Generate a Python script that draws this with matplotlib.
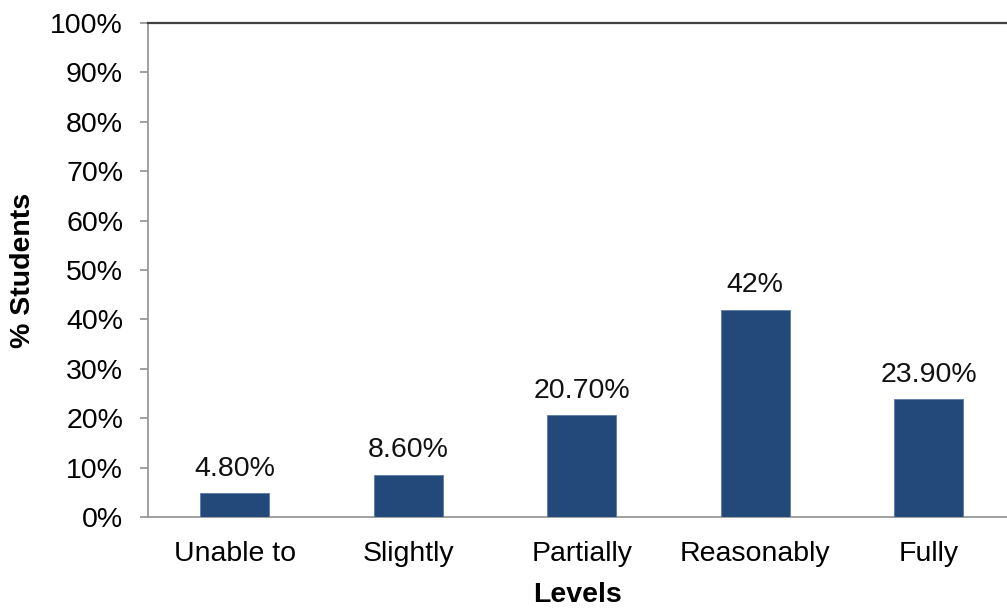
import matplotlib
matplotlib.use("Agg")
import matplotlib.pyplot as plt
from matplotlib.ticker import FuncFormatter

levels = ["Unable to", "Slightly", "Partially", "Reasonably", "Fully"]
pct = [4.8, 8.6, 20.7, 42.0, 23.9]
labels = ["4.80%", "8.60%", "20.70%", "42%", "23.90%"]

plt.rcParams['font.family'] = ['Liberation Sans', 'DejaVu Sans']
fs = 20.5

fig = plt.figure(figsize=(10.07, 6.08), dpi=100)
ax = fig.add_axes([148/1007, 91/608, 1 - 148/1007, 494/608])

x = range(len(levels))
ax.bar(x, pct, width=0.40, color="#22497A", edgecolor="#5B7BA6", linewidth=0.6, zorder=3)
for i, (v, lab) in enumerate(zip(pct, labels)):
    ax.annotate(lab, (i, v), xytext=(0, 8), textcoords="offset points",
                ha="center", va="bottom", fontsize=fs, color="#111111")

ax.set_ylim(0, 100)
ax.set_xlim(-0.5, (1007 - 148) / 173.5 - 0.5)
ax.set_yticks(range(0, 101, 10))
ax.yaxis.set_major_formatter(FuncFormatter(lambda v, p: f"{int(v)}%"))
ax.set_xticks(list(x))
ax.set_xticklabels(levels)
ax.tick_params(axis="y", labelsize=fs, length=6, width=1.2, color="#909090", pad=12)
ax.tick_params(axis="x", labelsize=fs, length=0, pad=17)

ax.spines["right"].set_visible(False)
ax.spines["top"].set_color("#404040")
ax.spines["top"].set_linewidth(1.6)
ax.spines["left"].set_color("#909090")
ax.spines["left"].set_linewidth(1.2)
ax.spines["bottom"].set_color("#909090")
ax.spines["bottom"].set_linewidth(1.2)

ax.set_xlabel("Levels", fontsize=fs, fontweight="bold", labelpad=11)
ax.set_ylabel("% Students", fontsize=fs, fontweight="bold", labelpad=10)

fig.savefig("out.png", dpi=100)
